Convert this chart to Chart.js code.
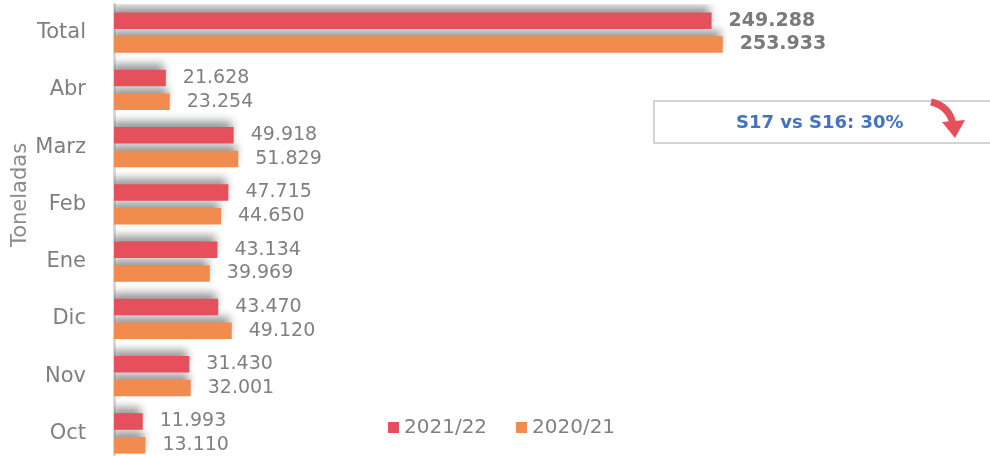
<!DOCTYPE html>
<html>
<head>
<meta charset="utf-8">
<script src="https://cdn.jsdelivr.net/npm/chart.js@4.4.0/dist/chart.umd.min.js"></script>
<style>
  html, body { margin: 0; padding: 0; background: #fff; overflow: hidden; }
  #wrap { position: relative; width: 990px; height: 462px; }
  #note {
    position: absolute; left: 653px; top: 100px; width: 345px; height: 40px;
    border: 2px solid #d4d4d4; box-sizing: content-box;
    font-family: "DejaVu Sans", sans-serif; font-weight: bold; font-size: 18px;
    color: #4472c4;
  }
  #note span { position: absolute; left: 81px; top: 9px; }
  #note svg { position: absolute; left: 270px; top: -4px; }
</style>
</head>
<body>
<div id="wrap">
  <canvas id="myChart" width="990" height="462"></canvas>
  <div id="note"><span>S17 vs S16: 30%</span>
    <svg width="50" height="46" viewBox="0 0 50 46">
      <path d="M6 4 Q24 8 28 26" stroke="#e5505c" stroke-width="7" fill="none"/>
      <path d="M17 24 L40 22 L30 40 Z" fill="#e5505c"/>
    </svg>
  </div>
</div>
<script>
const labels = ['Total', 'Abr', 'Marz', 'Feb', 'Ene', 'Dic', 'Nov', 'Oct'];
const season2122 = [249288, 21628, 49918, 47715, 43134, 43470, 31430, 11993];
const season2021 = [253933, 23254, 51829, 44650, 39969, 49120, 32001, 13110];

const red = '#e5505c';
const orange = '#f18b4e';
const fontFamily = '"DejaVu Sans", sans-serif';

function fmt(v) {
    return String(v).replace(/\B(?=(\d{3})+(?!\d))/g, '.');
}

// grey shadow above the bars
const shadowPlugin = {
    id: 'shadow',
    beforeDatasetsDraw(chart) {
        const ctx = chart.ctx;
        ctx.save();
        ctx.shadowColor = 'rgba(0,0,0,0.4)';
        ctx.shadowBlur = 8;
        ctx.shadowOffsetX = -2;
        ctx.shadowOffsetY = -6;
    },
    afterDatasetsDraw(chart) {
        chart.ctx.restore();
    }
};

// value labels, axis title, legend
const labelPlugin = {
    id: 'valueLabels',
    afterDraw(chart) {
        const ctx = chart.ctx;
        ctx.save();
        ctx.textBaseline = 'middle';
        ctx.textAlign = 'left';
        chart.data.datasets.forEach((ds, di) => {
            const meta = chart.getDatasetMeta(di);
            meta.data.forEach((bar, i) => {
                const isTotal = i === 0;
                ctx.font = (isTotal ? 'bold ' : '') + '19px ' + fontFamily;
                ctx.fillStyle = isTotal ? '#7a7a7a' : '#808080';
                ctx.fillText(fmt(ds.data[i]), bar.x + 17, bar.y);
            });
        });

        // y title, sits a bit above the middle like the original
        ctx.save();
        ctx.translate(21, 195);
        ctx.rotate(-Math.PI / 2);
        ctx.textAlign = 'center';
        ctx.font = '21px ' + fontFamily;
        ctx.fillStyle = '#8c8c8c';
        ctx.fillText('Toneladas', 0, 0);
        ctx.restore();

        // legend
        ctx.font = '20px ' + fontFamily;
        let x = 388;
        const y = 428;
        chart.data.datasets.forEach(ds => {
            ctx.fillStyle = ds.backgroundColor;
            ctx.fillRect(x, y - 6, 11, 11);
            ctx.fillStyle = '#808080';
            ctx.fillText(ds.label, x + 16, y);
            x += 128;
        });
        ctx.restore();
    }
};

var ctx = document.getElementById('myChart').getContext('2d');

const data = {
    labels: labels,
    datasets: [{
            label: '2021/22',
            backgroundColor: red,
            data: season2122,
            categoryPercentage: 0.83,
            barPercentage: 0.7
        },
        {
            label: '2020/21',
            backgroundColor: orange,
            data: season2021,
            categoryPercentage: 0.83,
            barPercentage: 0.7
        }
    ]
};

const options = {
    indexAxis: 'y',
    responsive: false,
    animation: false,
    layout: { padding: { top: 4, right: 37, bottom: 0, left: 0 } },
    plugins: {
        legend: { display: false },
        tooltip: { enabled: false }
    },
    scales: {
        x: {
            display: false,
            min: 0,
            max: 350000
        },
        y: {
            afterFit(scale) {
                scale.width = 114;
                scale.paddingTop = 0;
                scale.paddingBottom = 0;
            },
            grid: { display: false },
            border: { display: true, color: '#d9d9d9', width: 3 },
            ticks: {
                color: '#7f7f7f',
                padding: 20,
                font: { family: fontFamily, size: 21 }
            }
        }
    }
};

var myBarChart = new Chart(ctx, {
    type: 'bar',
    data: data,
    options: options,
    plugins: [shadowPlugin, labelPlugin]
});
</script>
</body>
</html>
